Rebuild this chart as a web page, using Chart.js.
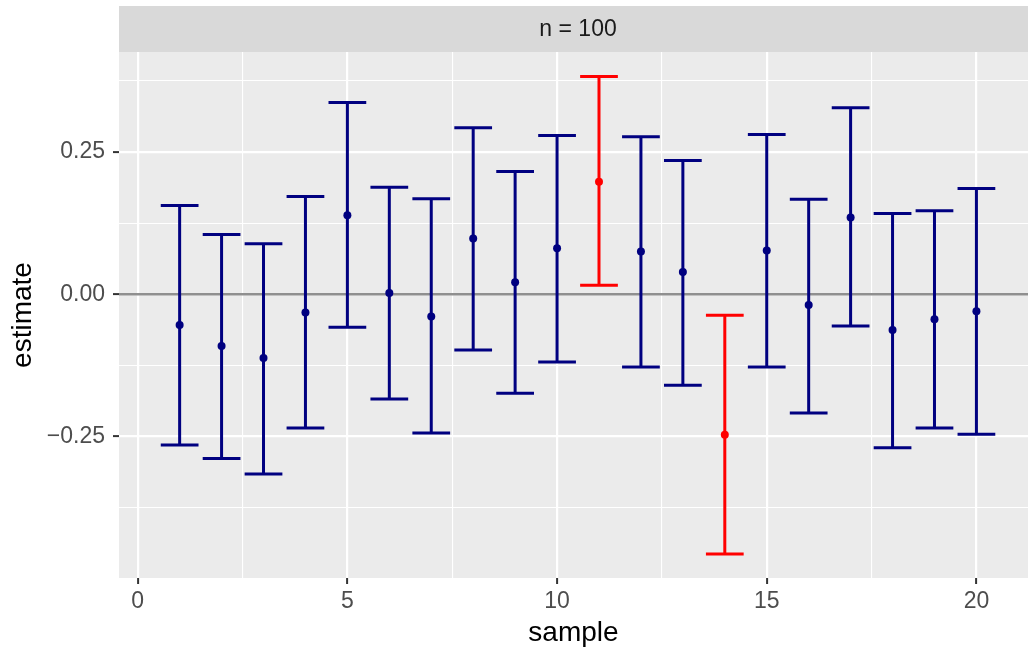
<!DOCTYPE html>
<html>
<head>
<meta charset="utf-8">
<title>n = 100</title>
<script src="https://cdn.jsdelivr.net/npm/chart.js@4.4.0/dist/chart.umd.min.js"></script>
<style>
  body { margin: 0; background: #ffffff; }
</style>
</head>
<body>
<canvas id="ciChart" width="1028" height="648"></canvas>
<script>
// Values: one interval per sample
const sampleIds = [1, 2, 3, 4, 5, 6, 7, 8, 9, 10, 11, 12, 13, 14, 15, 16, 17, 18, 19, 20];
const estimates = [-0.054, -0.091, -0.112, -0.032, 0.139, 0.002, -0.039, 0.098, 0.021, 0.081,
                   0.198, 0.075, 0.039, -0.247, 0.077, -0.019, 0.135, -0.063, -0.044, -0.030];
const lowerBounds = [-0.265, -0.289, -0.316, -0.235, -0.058, -0.184, -0.244, -0.098, -0.174, -0.119,
                     0.016, -0.128, -0.160, -0.457, -0.128, -0.209, -0.056, -0.270, -0.235, -0.246];
const upperBounds = [0.156, 0.105, 0.089, 0.172, 0.337, 0.188, 0.168, 0.293, 0.216, 0.279,
                     0.383, 0.277, 0.235, -0.037, 0.281, 0.167, 0.328, 0.142, 0.147, 0.186];
const trueValue = 0;
const stripLabel = "n = 100";

// Axis ticks
const yTickValues = [-0.25, 0, 0.25];
const yTickLabels = ["\u22120.25", "0.00", "0.25"];
const yMinorValues = [-0.375, -0.125, 0.125, 0.375];
const xTickValues = [0, 5, 10, 15, 20];
const xTickLabels = ["0", "5", "10", "15", "20"];
const xMinorValues = [2.5, 7.5, 12.5, 17.5];

const coverColor = "#000080";
const missColor = "#ff0000";
// red when the interval misses the true value
const barColors = sampleIds.map((s, i) =>
  (lowerBounds[i] > trueValue || upperBounds[i] < trueValue) ? missColor : coverColor);

Chart.defaults.font.family = "'Liberation Sans', Arial, sans-serif";

const ctx = document.getElementById("ciChart");

// panel background, facet strip, zero line and error bars
const panelPlugin = {
  id: "panel",
  beforeDraw(chart) {
    const { ctx, chartArea: a, scales: { x } } = chart;
    ctx.save();
    ctx.fillStyle = "#ebebeb";
    ctx.fillRect(a.left, a.top, a.right - a.left, a.bottom - a.top);
    ctx.fillStyle = "#d9d9d9";
    ctx.fillRect(a.left, 6, a.right - a.left, a.top - 6);
    ctx.fillStyle = "#1a1a1a";
    ctx.font = "23px 'Liberation Sans', Arial, sans-serif";
    ctx.textAlign = "center";
    ctx.textBaseline = "middle";
    ctx.fillText(stripLabel, x.getPixelForValue(10.5), (6 + a.top) / 2 + 1);
    ctx.restore();
  },
  beforeDatasetsDraw(chart) {
    const { ctx, chartArea: a, scales: { x, y } } = chart;
    ctx.save();
    ctx.beginPath();
    ctx.rect(a.left, a.top, a.right - a.left, a.bottom - a.top);
    ctx.clip();
    // reference line
    const y0 = y.getPixelForValue(trueValue);
    ctx.strokeStyle = "#8f8f8f";
    ctx.lineWidth = 2.6;
    ctx.beginPath();
    ctx.moveTo(a.left, y0);
    ctx.lineTo(a.right, y0);
    ctx.stroke();
    // intervals
    ctx.lineWidth = 3;
    for (let i = 0; i < sampleIds.length; i++) {
      const xc = x.getPixelForValue(sampleIds[i]);
      const xl = x.getPixelForValue(sampleIds[i] - 0.45);
      const xr = x.getPixelForValue(sampleIds[i] + 0.45);
      const yl = y.getPixelForValue(lowerBounds[i]);
      const yu = y.getPixelForValue(upperBounds[i]);
      ctx.strokeStyle = barColors[i];
      ctx.beginPath();
      ctx.moveTo(xl, yu); ctx.lineTo(xr, yu);
      ctx.moveTo(xc, yu); ctx.lineTo(xc, yl);
      ctx.moveTo(xl, yl); ctx.lineTo(xr, yl);
      ctx.stroke();
    }
    ctx.restore();
  }
};

function tickSetter(major, minor) {
  return (scale) => {
    scale.ticks = major.concat(minor).sort((a, b) => a - b).map(v => ({ value: v }));
  };
}

function gridFor(minor) {
  return {
    color: "#ffffff",
    lineWidth: (c) => minor.includes(c.tick.value) ? 1.1 : 2.2,
    tickColor: (c) => minor.includes(c.tick.value) ? "rgba(0,0,0,0)" : "#333333",
    tickLength: 6,
    tickWidth: 2,
  };
}

new Chart(ctx, {
  type: "scatter",
  data: {
    datasets: [
      {
        label: "estimate",
        data: sampleIds.map((s, i) => ({ x: s, y: estimates[i] })),
        pointRadius: 4,
        pointBorderWidth: 0,
        pointBackgroundColor: barColors,
        pointBorderColor: barColors,
      }
    ]
  },
  options: {
    responsive: false,
    animation: false,
    layout: { autoPadding: false, padding: { top: 52, left: 0, right: 0, bottom: 0 } },
    plugins: {
      legend: { display: false },
      tooltip: { enabled: false },
    },
    scales: {
      x: {
        type: "linear",
        min: -0.446,
        max: 21.23,
        border: { display: false },
        afterBuildTicks: tickSetter(xTickValues, xMinorValues),
        afterFit: (scale) => {
          scale.height = 70;
          scale.paddingLeft = 0;
          scale.paddingRight = 0;
        },
        grid: gridFor(xMinorValues),
        ticks: {
          autoSkip: false,
          maxRotation: 0,
          padding: 4,
          color: "#4d4d4d",
          font: { size: 23 },
          callback: (v) => {
            const k = xTickValues.indexOf(v);
            return k >= 0 ? xTickLabels[k] : "";
          }
        },
        title: {
          display: true,
          text: "sample",
          color: "#000000",
          font: { size: 28, lineHeight: 1 },
          padding: { top: 0, bottom: 1 }
        }
      },
      y: {
        type: "linear",
        min: -0.499,
        max: 0.426,
        border: { display: false },
        afterBuildTicks: tickSetter(yTickValues, yMinorValues),
        afterFit: (scale) => {
          scale.width = 119;
          scale.paddingTop = 0;
          scale.paddingBottom = 0;
        },
        grid: gridFor(yMinorValues),
        ticks: {
          autoSkip: false,
          padding: 8,
          color: "#4d4d4d",
          font: { size: 23 },
          callback: (v) => {
            const k = yTickValues.indexOf(v);
            return k >= 0 ? yTickLabels[k] : "";
          }
        },
        title: {
          display: true,
          text: "estimate",
          color: "#000000",
          font: { size: 28, lineHeight: 1 },
          padding: { top: 9, bottom: 0 }
        }
      }
    }
  },
  plugins: [panelPlugin]
});
</script>
</body>
</html>
